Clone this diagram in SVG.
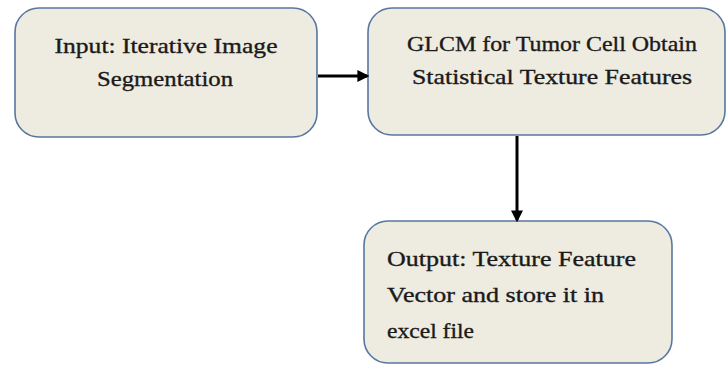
<svg xmlns="http://www.w3.org/2000/svg" width="727" height="366" viewBox="0 0 727 366">
<defs>
<style>
.box{fill:#eeebe1;stroke:#5877a0;stroke-width:1.6}
.t{font-family:"Liberation Serif","DejaVu Serif",serif;font-size:22px;fill:#1a1a1a;stroke:#1a1a1a;stroke-width:0.35}
.c{text-anchor:middle}
.edge{stroke:#000;stroke-width:3;fill:none}
</style>
<marker id="ah" markerWidth="4" markerHeight="4" refX="3.2" refY="2" orient="auto" markerUnits="strokeWidth">
<path d="M0,0 L4,2 L0,4 Z" fill="#000"/>
</marker>
</defs>
<rect width="727" height="366" fill="#fff"/>
<g id="input">
<rect class="box" x="15" y="8" width="302" height="129" rx="24"/>
<text class="t c" x="166" y="53" textLength="223" lengthAdjust="spacingAndGlyphs">Input: Iterative Image</text>
<text class="t c" x="165" y="86" textLength="136" lengthAdjust="spacingAndGlyphs">Segmentation</text>
</g>
<g id="glcm">
<rect class="box" x="368" y="8" width="357" height="127" rx="24"/>
<text class="t c" x="552" y="51" textLength="290" lengthAdjust="spacingAndGlyphs">GLCM for Tumor Cell  Obtain</text>
<text class="t c" x="552" y="84" textLength="280" lengthAdjust="spacingAndGlyphs">Statistical Texture Features</text>
</g>
<g id="output">
<rect class="box" x="364" y="221" width="308" height="142" rx="24"/>
<text class="t" x="387" y="266" textLength="249" lengthAdjust="spacingAndGlyphs">Output: Texture Feature</text>
<text class="t" x="387" y="302" textLength="217" lengthAdjust="spacingAndGlyphs">Vector and store it in</text>
<text class="t" x="387" y="338" textLength="87" lengthAdjust="spacingAndGlyphs">excel file</text>
</g>
<g id="connectors">
<line class="edge" x1="318" y1="76" x2="367" y2="76" marker-end="url(#ah)"/>
<line class="edge" x1="517" y1="136" x2="517" y2="220" marker-end="url(#ah)"/>
</g>
</svg>
